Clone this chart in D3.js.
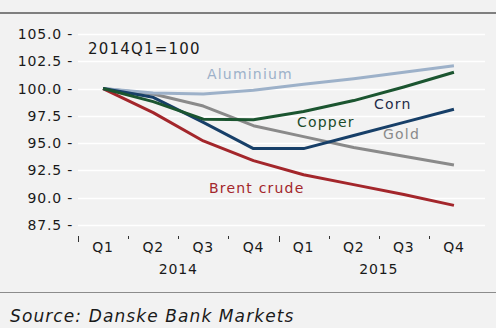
<!DOCTYPE html>
<html>
<head>
<meta charset="utf-8">
<script src="https://cdn.jsdelivr.net/npm/d3@7"></script>
<style>
  body { margin: 0; background: #f2f2f2; }
  text { font-family: "DejaVu Sans", sans-serif; }
</style>
</head>
<body>
<script>
"use strict";

// Quarters and years on the x axis.
var quarters = ["Q1", "Q2", "Q3", "Q4", "Q1", "Q2", "Q3", "Q4"];
var years = ["2014", "2015"];

// Index values, 2014Q1 = 100.
var aluminium = [100, 99.6, 99.5, 99.85, 100.4, 100.9, 101.5, 102.1];
var copper = [100, 98.8, 97.2, 97.15, 97.9, 98.9, 100.15, 101.5];
var corn = [100, 99.2, 96.9, 94.5, 94.5, 95.7, 96.9, 98.1];
var gold = [100, 99.5, 98.4, 96.6, 95.6, 94.6, 93.8, 93.0];
var brent = [100, 97.8, 95.2, 93.4, 92.1, 91.2, 90.3, 89.3];

var yTicks = [87.5, 90, 92.5, 95, 97.5, 100, 102.5, 105];

var width = 496, height = 328;

var svg = d3.select("body").append("svg")
  .attr("width", width)
  .attr("height", height);

svg.append("rect")
  .attr("width", width).attr("height", height)
  .attr("fill", "#f2f2f2");

// Frame lines top and bottom.
svg.append("line")
  .attr("x1", 0).attr("x2", width).attr("y1", 13).attr("y2", 13)
  .attr("stroke", "#7f7f7f").attr("stroke-width", 2);
svg.append("line")
  .attr("x1", 0).attr("x2", width).attr("y1", 292.5).attr("y2", 292.5)
  .attr("stroke", "#8c8c8c").attr("stroke-width", 1);

// Scales.
var keys = quarters.map(function(q, i) { return i; });
var x = d3.scaleBand().domain(keys).range([78, 479]).padding(0);
var y = d3.scaleLinear().domain([87.5, 105]).range([225, 34]);
var cx = function(i) { return x(i) + x.bandwidth() / 2; };

// Gridlines.
svg.append("g").selectAll("line")
  .data(yTicks)
  .enter().append("line")
  .attr("x1", 78).attr("x2", 485)
  .attr("y1", function(d) { return Math.round(y(d)) + 0.5; })
  .attr("y2", function(d) { return Math.round(y(d)) + 0.5; })
  .attr("stroke", "#ffffff").attr("stroke-width", 1.5);

// Y axis labels.
var yAxis = svg.append("g")
  .attr("transform", "translate(73,0)")
  .call(d3.axisLeft(y).tickValues(yTicks).tickSize(0).tickPadding(0)
    .tickFormat(function(d) { return d.toFixed(1) + " -"; }));
yAxis.select(".domain").remove();
yAxis.selectAll("text")
  .attr("fill", "#1a1a1a")
  .style("font-size", "14px")
  .style("letter-spacing", "0.8px");

// X axis labels.
var xAxis = svg.append("g")
  .attr("transform", "translate(0,242)")
  .call(d3.axisBottom(x).tickSize(0).tickPadding(0)
    .tickFormat(function(i) { return quarters[i]; }));
xAxis.select(".domain").remove();
xAxis.selectAll("text")
  .attr("fill", "#1a1a1a")
  .style("font-size", "14px")
  .style("letter-spacing", "0.8px");

// Boundary ticks between quarters (taller at year start).
svg.append("g").selectAll("line")
  .data(keys)
  .enter().append("line")
  .attr("x1", function(i) { return Math.round(x(i)) + 0.5; })
  .attr("x2", function(i) { return Math.round(x(i)) + 0.5; })
  .attr("y1", 236)
  .attr("y2", function(i) { return i % 4 === 0 ? 242 : 239; })
  .attr("stroke", "#333").attr("stroke-width", 1);

// Year labels, centred under each year.
svg.append("g").selectAll("text")
  .data(years)
  .enter().append("text")
  .attr("x", function(d, j) { return (cx(j * 4 + 1) + cx(j * 4 + 2)) / 2; })
  .attr("y", 274)
  .attr("text-anchor", "middle")
  .attr("fill", "#1a1a1a")
  .style("font-size", "14px")
  .style("letter-spacing", "0.8px")
  .text(function(d) { return d; });

// Series.
var series = [
  {name: "Gold", values: gold, color: "#8a8a8a"},
  {name: "Aluminium", values: aluminium, color: "#9db1c9"},
  {name: "Brent crude", values: brent, color: "#a3262b"},
  {name: "Corn", values: corn, color: "#173f68"},
  {name: "Copper", values: copper, color: "#1b5530"}
];

var line = d3.line()
  .x(function(d, i) { return cx(i); })
  .y(function(d) { return y(d); });

svg.append("g").selectAll("path")
  .data(series)
  .enter().append("path")
  .attr("d", function(s) { return line(s.values); })
  .attr("fill", "none")
  .attr("stroke", function(s) { return s.color; })
  .attr("stroke-width", 3)
  .attr("stroke-linejoin", "round");

// Labels on the chart.
var labels = [
  {text: "2014Q1=100", x: 88, y: 54, color: "#1a1a1a", size: 15},
  {text: "Aluminium", x: 207, y: 79, color: "#9db1c9", size: 14},
  {text: "Corn", x: 374, y: 109, color: "#1f2b48", size: 14},
  {text: "Copper", x: 297, y: 127, color: "#1b4a2a", size: 14},
  {text: "Gold", x: 383, y: 139, color: "#8a8a8a", size: 14},
  {text: "Brent crude", x: 209, y: 193, color: "#a3262b", size: 14}
];
svg.append("g").selectAll("text")
  .data(labels)
  .enter().append("text")
  .attr("x", function(d) { return d.x; })
  .attr("y", function(d) { return d.y; })
  .attr("fill", function(d) { return d.color; })
  .style("font-size", function(d) { return d.size + "px"; })
  .style("letter-spacing", "1.2px")
  .text(function(d) { return d.text; });

// Source.
svg.append("text")
  .attr("x", 10).attr("y", 322)
  .attr("fill", "#1a1a1a")
  .style("font-size", "17px")
  .style("font-style", "italic")
  .style("letter-spacing", "1.1px")
  .text("Source: Danske Bank Markets");
</script>
</body>
</html>
